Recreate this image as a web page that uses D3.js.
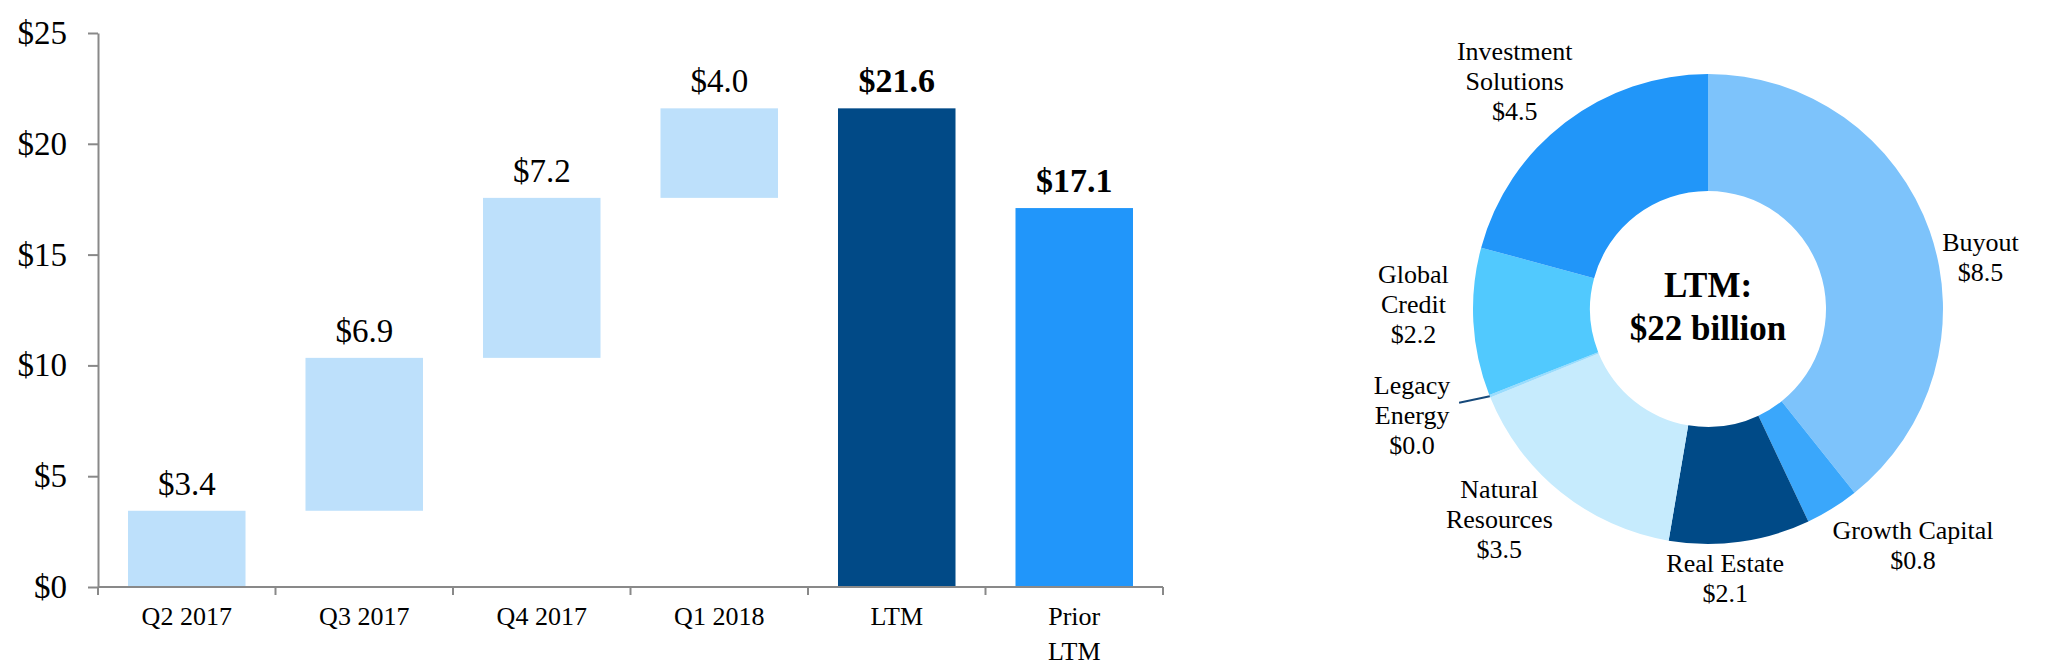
<!DOCTYPE html>
<html><head><meta charset="utf-8">
<script src="https://cdn.jsdelivr.net/npm/d3@7"></script>
<style>
body{margin:0;background:#fff;}
svg{display:block;}
text{font-family:"Liberation Serif","Times New Roman",serif;fill:#000;}
</style>
</head><body>
<svg id="c" width="2070" height="672"></svg>
<script>
// ---------- data ----------
const categories = ["Q2 2017", "Q3 2017", "Q4 2017", "Q1 2018", "LTM", "Prior LTM"];
const increments = [3.44, 6.90, 7.22, 4.04];
const ltmTotal = 21.6;
const priorLtmTotal = 17.1;
const yTicks = [0, 5, 10, 15, 20, 25];

const segments = ["Buyout", "Growth Capital", "Real Estate", "Natural Resources", "Legacy Energy", "Global Credit", "Investment Solutions"];
const segmentValues = [8.5, 0.8, 2.1, 3.5, 0.04, 2.2, 4.5];
const centerTitle = ["LTM:", "$22 billion"];

// ---------- layout / style ----------
const svg = d3.select("#c");
const axisColor = "#898989";
const fmt = d3.format(".1f");
const lineBreaks = {
  "Prior LTM": ["Prior", "LTM"],
  "Investment Solutions": ["Investment", "Solutions"],
  "Natural Resources": ["Natural", "Resources"],
  "Legacy Energy": ["Legacy", "Energy"],
  "Global Credit": ["Global", "Credit"]
};
const linesOf = s => lineBreaks[s] || [s];

// ---------- waterfall ----------
const x = d3.scaleBand().domain(categories).range([98, 1163]).paddingInner(0.338).paddingOuter(0.169);
const y = d3.scaleLinear().domain([0, 25]).range([587, 33]);

let cum = 0;
const bars = increments.map((v, i) => {
  const b = { cat: categories[i], y0: cum, y1: cum + v, label: "$" + fmt(v), total: false, color: "#BDE0FB" };
  cum += v;
  return b;
});
bars.push({ cat: categories[4], y0: 0, y1: ltmTotal, label: "$" + fmt(ltmTotal), total: true, color: "#014A87" });
bars.push({ cat: categories[5], y0: 0, y1: priorLtmTotal, label: "$" + fmt(priorLtmTotal), total: true, color: "#2196FA" });

const gW = svg.append("g");
gW.selectAll("rect.bar").data(bars).join("rect")
  .attr("class", "bar")
  .attr("x", d => x(d.cat)).attr("width", x.bandwidth())
  .attr("y", d => y(d.y1)).attr("height", d => y(d.y0) - y(d.y1))
  .attr("fill", d => d.color);

gW.selectAll("text.val").data(bars).join("text")
  .attr("class", "val")
  .attr("x", d => x(d.cat) + x.bandwidth() / 2)
  .attr("y", d => y(d.y1) - 16)
  .attr("text-anchor", "middle")
  .style("font-size", d => d.total ? "34px" : "33px")
  .style("font-weight", d => d.total ? "bold" : "normal")
  .text(d => d.label);

// y axis
const yAxis = gW.append("g").attr("transform", `translate(${x.range()[0]},0)`)
  .call(d3.axisLeft(y).tickValues(yTicks).tickSize(10).tickSizeOuter(0).tickPadding(21).tickFormat(d => "$" + d));
yAxis.selectAll("path,line").attr("stroke", axisColor).attr("stroke-width", 2);
yAxis.selectAll("text").style("font-size", "33px").attr("fill", "#000")
  .style("font-family", '"Liberation Serif","Times New Roman",serif');

// x axis line and edge ticks
const edges = d3.range(categories.length + 1).map(i => x.range()[0] + i * x.step());
gW.append("line").attr("x1", x.range()[0]).attr("x2", x.range()[1])
  .attr("y1", y(0)).attr("y2", y(0)).attr("stroke", axisColor).attr("stroke-width", 2);
gW.selectAll("line.etick").data(edges).join("line").attr("class", "etick")
  .attr("x1", d => d).attr("x2", d => d).attr("y1", y(0)).attr("y2", y(0) + 8)
  .attr("stroke", axisColor).attr("stroke-width", 2);

const catG = gW.selectAll("text.cat").data(categories).join("text")
  .attr("class", "cat")
  .attr("text-anchor", "middle")
  .attr("x", d => x(d) + x.bandwidth() / 2)
  .attr("y", y(0) + 38)
  .style("font-size", "26px");
catG.selectAll("tspan").data(d => linesOf(d).map(t => ({ t, x: x(d) + x.bandwidth() / 2 }))).join("tspan")
  .attr("x", d => d.x).attr("dy", (d, i) => i ? 35 : 0).text(d => d.t);

// ---------- donut ----------
const cx = 1708, cy = 309, R = 235, r = 118;
const segColors = ["#7DC3FB", "#3AA7FB", "#004A87", "#C6EBFD", "#9ADCFD", "#51C9FE", "#2196F9"];
const pie = d3.pie().sort(null).value(d => d.v);
const arcs = pie(segments.map((s, i) => ({ s, v: segmentValues[i], c: segColors[i] })));
const arc = d3.arc().innerRadius(r).outerRadius(R);
const gD = svg.append("g").attr("transform", `translate(${cx},${cy})`);
gD.selectAll("path").data(arcs).join("path").attr("d", arc).attr("fill", d => d.data.c);

// labels: placed on a label ring at each slice's mid-angle, with hand-tuned nudges
const labelR = 295;
const nudge = {
  "Buyout": [-6, 45], "Growth Capital": [49, -14], "Real Estate": [-23, -23],
  "Natural Resources": [-24, -20], "Legacy Energy": [-22, -4], "Global Credit": [0, -21],
  "Investment Solutions": [-14, 6]
};
const lh = 30;
arcs.forEach(a => {
  const m = (a.startAngle + a.endAngle) / 2;
  const n = nudge[a.data.s] || [0, 0];
  const px = labelR * Math.sin(m) + n[0];
  const py = -labelR * Math.cos(m) + n[1];
  const lines = linesOf(a.data.s).concat(["$" + fmt(a.data.v)]);
  const first = py - (lines.length - 1) * lh / 2 + 9;
  const t = gD.append("text").attr("text-anchor", "middle").style("font-size", "26px");
  lines.forEach((l, i) => t.append("tspan").attr("x", px).attr("y", first + i * lh).text(l));
  if (a.data.v < 0.5) {
    gD.append("line")
      .attr("x1", R * Math.sin(m)).attr("y1", -R * Math.cos(m))
      .attr("x2", (R + 31) * Math.sin(m + 0.02)).attr("y2", -(R + 31) * Math.cos(m + 0.02))
      .attr("stroke", "#16497A").attr("stroke-width", 2);
  }
});

gD.selectAll("text.ctr").data(centerTitle).join("text").attr("class", "ctr")
  .attr("text-anchor", "middle").attr("x", 0).attr("y", (d, i) => -12 + i * 43)
  .style("font-size", "35px").style("font-weight", "bold").text(d => d);
</script>
</body></html>
